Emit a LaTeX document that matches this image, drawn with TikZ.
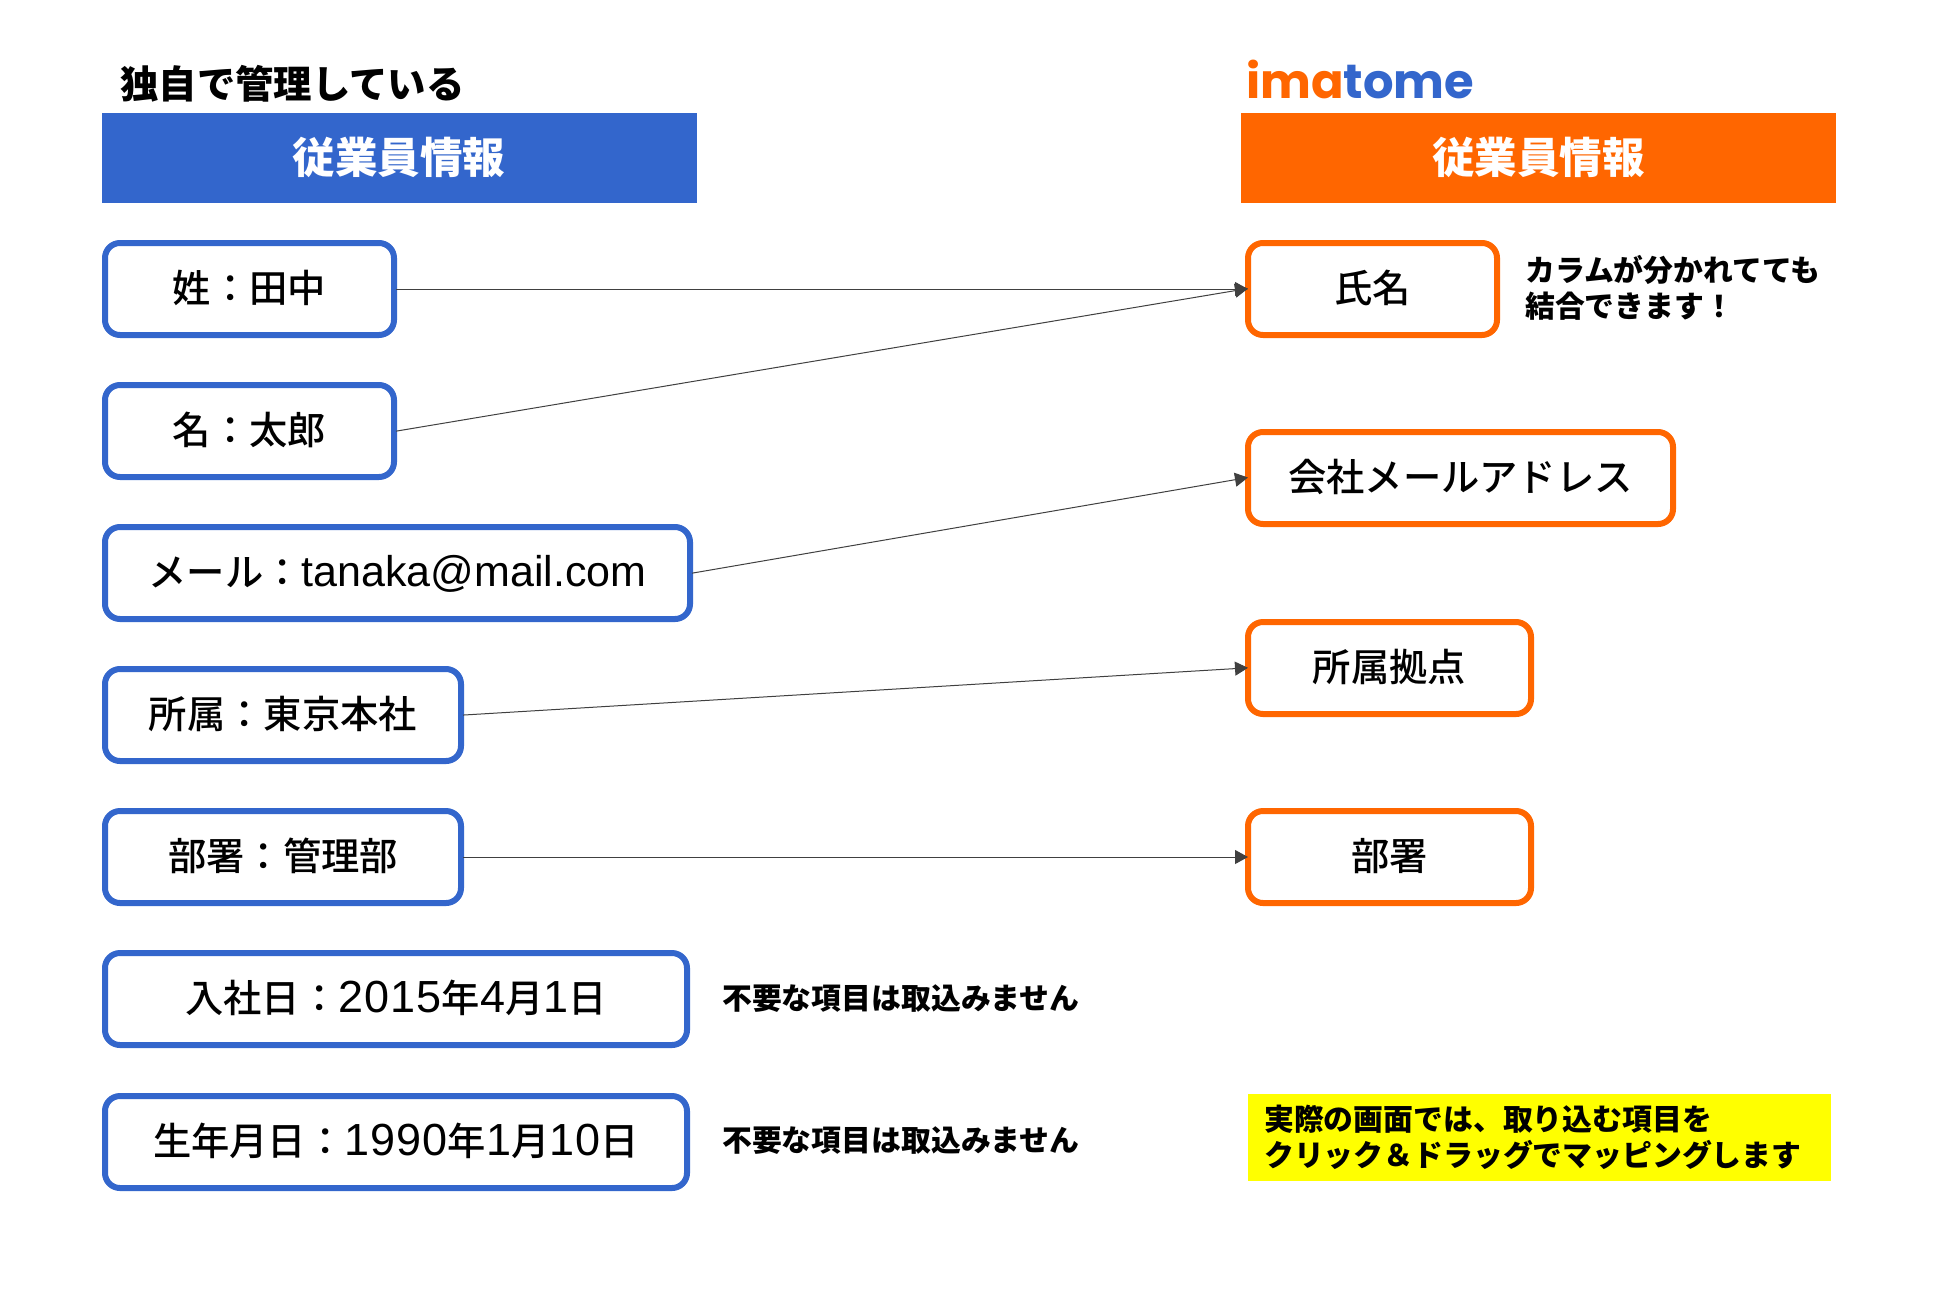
\documentclass[tikz,border=0pt]{standalone}
\usepackage{fontspec}
\setmainfont{Noto Sans CJK JP}
\newfontfamily\med{Noto Sans CJK JP Medium}
\newfontfamily\lat{Liberation Sans}
\newfontfamily\dgf[LetterSpace=2.4]{Liberation Sans}
\newfontfamily\logofont{Poppins}
\definecolor{bluec}{HTML}{3366CC}
\definecolor{orangec}{HTML}{FF6600}
\definecolor{linec}{HTML}{404040}
\definecolor{yellowc}{HTML}{FFFF00}
\newcommand{\fs}[1]{\fontsize{#1}{#1}\selectfont}
\newcommand{\la}[1]{{\lat\fs{43}#1}}
\newcommand{\dg}[1]{{\dgf\fs{45}#1}}
\usetikzlibrary{arrows.meta}
\tikzset{
 field/.style={draw,line width=6pt,rounded corners=15pt,fill=white,inner sep=0pt,minimum height=92pt,text=black,font=\med\fs{38.3},text height=33pt,text depth=6.4pt},
 bluebox/.style={field,draw=bluec},
 orangebox/.style={field,draw=orangec},
 header/.style={inner sep=0pt,minimum width=595pt,minimum height=90pt,text=white,font=\fs{42.5}\bfseries,text height=37pt,text depth=7pt},
 note/.style={inner sep=0pt,anchor=west,font=\fs{29.85}\bfseries,align=left,text=black},
 link/.style={draw=linec,line width=1pt,-{Triangle[length=13pt,width=14pt]},shorten >=-3pt,shorten <=-1pt},
}
\begin{document}
\begin{tikzpicture}[x=1pt,y=-1pt]
\useasboundingbox (0,0) rectangle (1950,1288);
\node[header,fill=bluec] (hl) at (399,158) {従業員情報};
\node[header,fill=orangec] (hr) at (1538.5,158) {従業員情報};
\node[inner sep=0pt,anchor=west,font=\fs{38.4}\bfseries] (tl) at (120,84) {独自で管理している};
\node[inner sep=0pt,anchor=west,font=\logofont\fs{48}\bfseries] (logo) at (1246,79) {\textcolor{orangec}{ima}\textcolor{bluec}{tome}};
\node[bluebox,minimum width=289pt] (a1) at (249.5,289) {姓：田中};
\node[bluebox,minimum width=289pt] (a2) at (249.5,431) {名：太郎};
\node[bluebox,minimum width=585pt] (a3) at (397.5,573) {メール：\la{tanaka@mail.com}};
\node[bluebox,minimum width=356pt] (a4) at (283,715) {所属：東京本社};
\node[bluebox,minimum width=356pt] (a5) at (283,857) {部署：管理部};
\node[bluebox,minimum width=582pt] (a6) at (396,999) {入社日：\dg{2015}年\dg{4}月\dg{1}日};
\node[bluebox,minimum width=582pt] (a7) at (396,1142) {生年月日：\dg{1990}年\dg{1}月\dg{10}日};
\node[orangebox,minimum width=249pt] (b1) at (1372.5,289) {氏名};
\node[orangebox,minimum width=425pt] (b2) at (1460.5,478) {会社メールアドレス};
\node[orangebox,minimum width=283pt] (b3) at (1389.5,668) {所属拠点};
\node[orangebox,minimum width=283pt] (b4) at (1389.5,857) {部署};
\node[note] (n1) at (1525,288) {\shortstack[l]{カラムが分かれてても\\[4pt]結合できます！}};
\node[note] (n2) at (722,999) {不要な項目は取込みません};
\node[note] (n3) at (722,1141) {不要な項目は取込みません};
\node[fill=yellowc,inner sep=0pt,minimum width=583pt,minimum height=87pt] (y) at (1539,1137.5) {};
\node[note] (n4) at (1264,1137) {\shortstack[l]{実際の画面では、取り込む項目を\\[4pt]クリック＆ドラッグでマッピングします}};
\draw[link] (a1.east) -- (b1.west);
\draw[link] (a2.east) -- (b1.west);
\draw[link] (a3.east) -- (b2.west);
\draw[link] (a4.east) -- (b3.west);
\draw[link] (a5.east) -- (b4.west);
\end{tikzpicture}
\end{document}
